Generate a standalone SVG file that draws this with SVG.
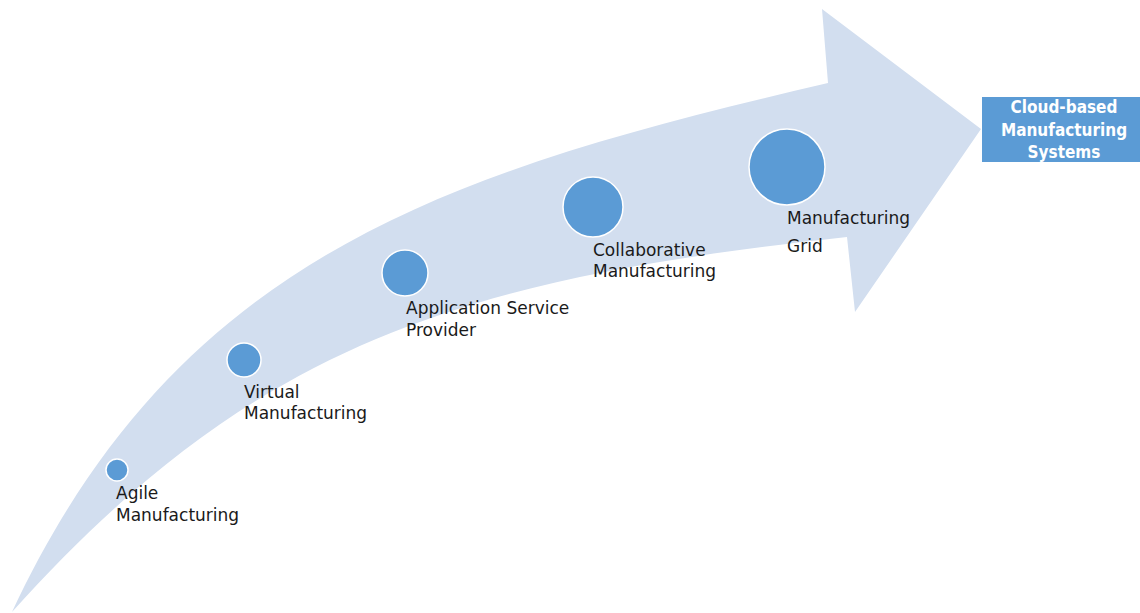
<svg xmlns="http://www.w3.org/2000/svg" width="1140" height="613" viewBox="0 0 1140 613">
<style>
.lbl{font-family:"DejaVu Sans","Liberation Sans",sans-serif;font-size:17px;fill:#1a1a1a}
.dot{fill:#5B9BD5;stroke:#ffffff;stroke-width:1.5}
.box{fill:#5B9BD5}
.boxt{font-family:"DejaVu Sans Condensed","DejaVu Sans",sans-serif;font-stretch:condensed;font-weight:bold;font-size:17px;fill:#ffffff;text-anchor:middle}
</style>
<rect width="1140" height="613" fill="#ffffff"/>
<g id="arrow">
<path d="M12,612 C181,250 458,170 828,83 L822,9 L981,129 L855,312 L847,237 C459,279 253,344 12,612 Z" fill="#D2DEEF"/>
</g>
<g id="connectors"></g>
<g id="agile">
<circle class="dot" cx="117" cy="470" r="11"/>
<text class="lbl" x="116" y="499">Agile</text>
<text class="lbl" x="116" y="521">Manufacturing</text>
</g>
<g id="virtual">
<circle class="dot" cx="244" cy="360" r="17"/>
<text class="lbl" x="244" y="398">Virtual</text>
<text class="lbl" x="244" y="419">Manufacturing</text>
</g>
<g id="asp">
<circle class="dot" cx="405" cy="273" r="23"/>
<text class="lbl" x="406" y="314">Application Service</text>
<text class="lbl" x="406" y="336">Provider</text>
</g>
<g id="collaborative">
<circle class="dot" cx="593" cy="207" r="30"/>
<text class="lbl" x="593" y="256">Collaborative</text>
<text class="lbl" x="593" y="277">Manufacturing</text>
</g>
<g id="grid">
<circle class="dot" cx="787" cy="167" r="38"/>
<text class="lbl" x="787" y="224">Manufacturing</text>
<text class="lbl" x="787" y="252">Grid</text>
</g>
<g id="cloud">
<rect class="box" x="982" y="97" width="158" height="65"/>
<text class="boxt" x="1064" y="113">Cloud-based</text>
<text class="boxt" x="1064" y="136">Manufacturing</text>
<text class="boxt" x="1064" y="158">Systems</text>
</g>
</svg>
